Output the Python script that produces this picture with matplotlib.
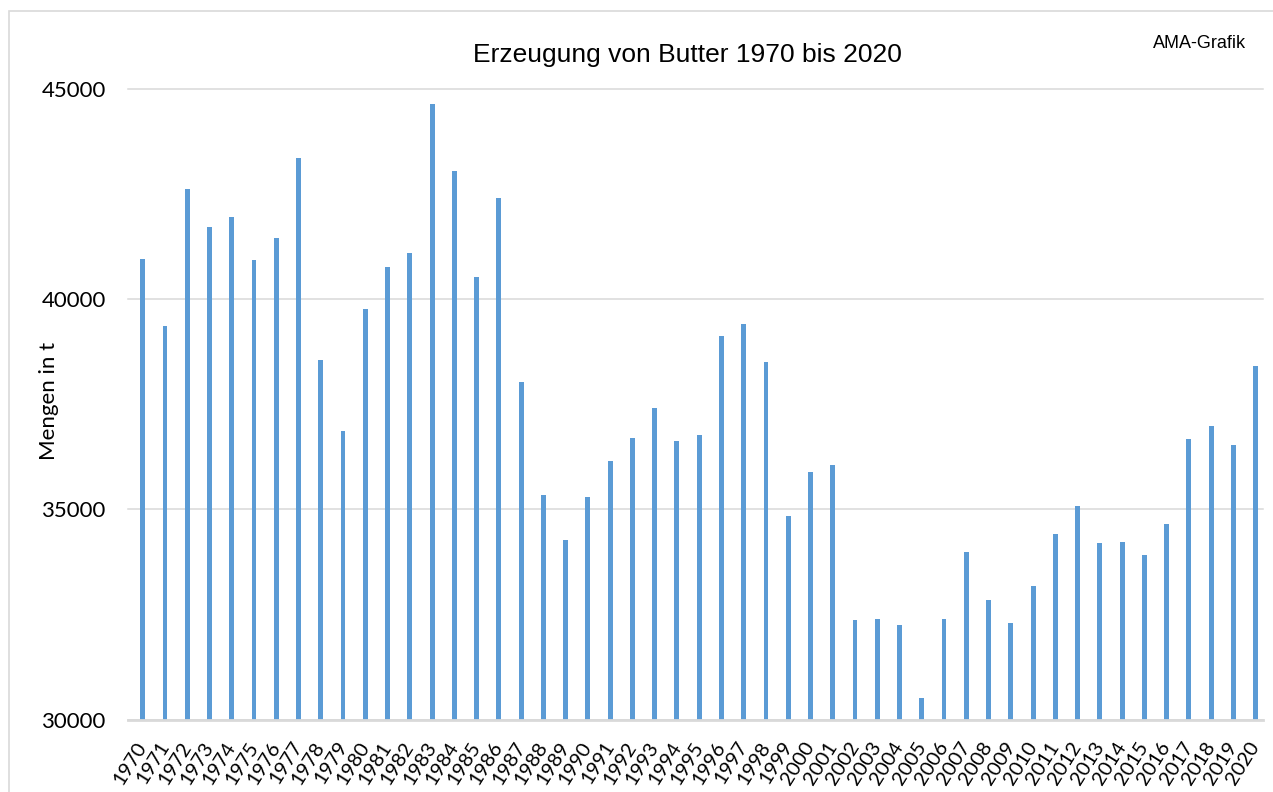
import matplotlib
matplotlib.use('Agg')
import matplotlib.pyplot as plt
from matplotlib.patches import Rectangle

years = [str(y) for y in range(1970, 2021)]
values = [40960, 39365, 42611, 41722, 41944, 40920, 41460, 43349, 38555, 36850,
          39762, 40770, 41087, 44635, 43032, 40516, 42405, 38016, 35341, 34278,
          35302, 36143, 36698, 37413, 36611, 36754, 39127, 39412, 38492, 34849,
          35897, 36040, 32365, 32389, 32246, 30508, 32389, 33976, 32849, 32301,
          33182, 34413, 35071, 34190, 34214, 33905, 34643, 36667, 36976, 36524,
          38397]
yticks = [30000, 35000, 40000, 45000]

W, H = 1273, 792
fig = plt.figure(figsize=(W / 100, H / 100), dpi=100)
fig.patch.set_facecolor('white')

# outer chart border
fig.patches.append(Rectangle((9 / W, -0.2), 1.2, (1 - 11 / H) + 0.2,
                             transform=fig.transFigure, fill=False,
                             edgecolor='#D9D9D9', lw=1.2))

left, right, top, bottom = 128 / W, 1263 / W, 1 - 88.7 / H, 1 - 719.5 / H
ax = fig.add_axes([left, bottom, right - left, top - bottom])

x = list(range(len(years)))
ax.bar(x, values, width=0.22, color='#5B9BD5', zorder=2)
ax.set_xlim(-0.66, len(years) - 1 + 0.33)
ax.set_ylim(30000, 45000)
ax.set_yticks(yticks)
ax.set_yticklabels([str(v) for v in yticks], family='Lato', fontsize=16)
ax.yaxis.grid(True, color='#D9D9D9', lw=1.1, zorder=0)
for gl in ax.yaxis.get_gridlines():
    gl.set_clip_on(False)
ax.set_axisbelow(True)
for s in ['top', 'left', 'right']:
    ax.spines[s].set_visible(False)
ax.spines['bottom'].set_color('#D9D9D9')
ax.spines['bottom'].set_linewidth(2.0)
ax.spines['bottom'].set_zorder(3)

ax.set_xticks(x)
ax.set_xticklabels(years, rotation=58, ha='right', va='center',
                   rotation_mode='anchor', family='Lato', fontsize=14.5)
ax.tick_params(axis='x', length=0, pad=17)
ax.tick_params(axis='y', length=0, pad=16)

fig.text(687.5 / W, 1 - 62 / H, 'Erzeugung von Butter 1970 bis 2020',
         ha='center', va='baseline', fontsize=19, family='Liberation Sans')
fig.text(1246 / W, 1 - 48 / H, 'AMA-Grafik', ha='right', va='baseline',
         fontsize=13, family='Liberation Sans')
fig.text(49 / W, 1 - 401 / H, 'Mengen in t', rotation=90, ha='center',
         va='center', fontsize=16, family='Lato')

fig.savefig('out.png', dpi=100, facecolor='white')
